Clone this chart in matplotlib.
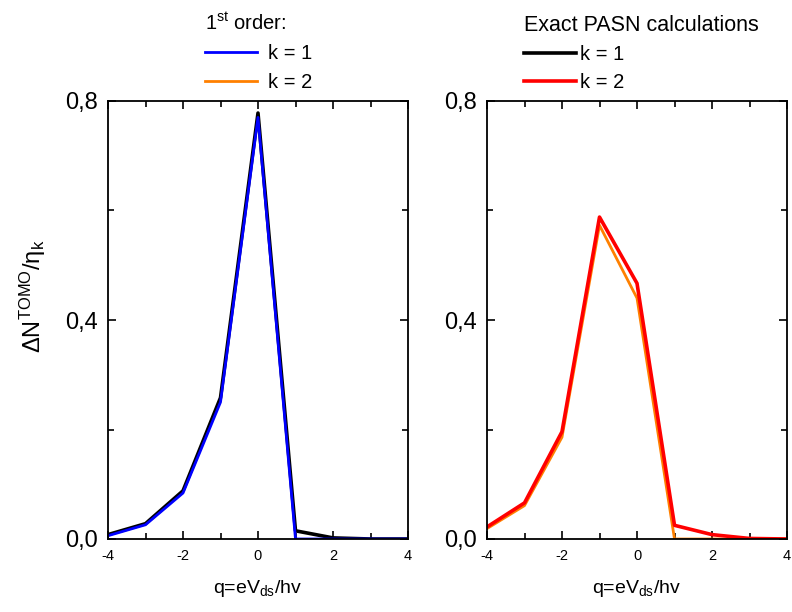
import matplotlib
matplotlib.use("Agg")
import matplotlib.pyplot as plt
from matplotlib.lines import Line2D
from matplotlib.ticker import MultipleLocator, FuncFormatter

plt.rcParams['font.family'] = ['Liberation Sans', 'DejaVu Sans']
plt.rcParams['mathtext.fontset'] = 'custom'
plt.rcParams['mathtext.rm'] = 'Liberation Sans'
plt.rcParams['mathtext.it'] = 'Liberation Sans:italic'
plt.rcParams['axes.unicode_minus'] = False

# dados
q = [-4, -3, -2, -1, 0, 1, 2, 3, 4]
exact_k1 = [0.008, 0.028, 0.088, 0.258, 0.778, 0.015, 0.002, 0.0, 0.0]
first_k1 = [0.006, 0.026, 0.084, 0.250, 0.770, 0.0, 0.0, 0.0, 0.0]
exact_k2 = [0.022, 0.066, 0.196, 0.588, 0.467, 0.025, 0.008, 0.001, 0.0]
first_k2 = [0.019, 0.061, 0.186, 0.573, 0.440, 0.0, 0.0, 0.0, 0.0]

xticks = [-4, -2, 0, 2, 4]
yticks = [0.0, 0.4, 0.8]

fig = plt.figure(figsize=(7.92, 6.12), dpi=100)
ax1 = fig.add_axes([108 / 792, 1 - 539 / 612, 300 / 792, 438 / 612])
ax2 = fig.add_axes([487 / 792, 1 - 539 / 612, 300 / 792, 438 / 612])

ax1.plot(q, exact_k1, color='black', lw=2.6)
ax1.plot(q, first_k1, color='#0000ff', lw=2.0)
ax2.plot(q, first_k2, color='#ff8000', lw=2.0)
ax2.plot(q, exact_k2, color='#ff0000', lw=2.6)

virgula = FuncFormatter(lambda v, p: f"{v:.1f}".replace('.', ','))

for ax in (ax1, ax2):
    ax.set_xlim(-4, 4)
    ax.set_ylim(0, 0.8)
    ax.set_xticks(xticks)
    ax.set_yticks(yticks)
    ax.xaxis.set_minor_locator(MultipleLocator(1))
    ax.yaxis.set_minor_locator(MultipleLocator(0.2))
    ax.yaxis.set_major_formatter(virgula)
    ax.tick_params(which='both', direction='in', top=True, right=True, width=1.2)
    ax.tick_params(which='major', length=6)
    ax.tick_params(which='minor', length=4)
    ax.tick_params(axis='x', labelsize=10.5, pad=7)
    ax.tick_params(axis='y', labelsize=17, pad=7)
    for s in ax.spines.values():
        s.set_linewidth(1.3)
    ax.set_xlabel("q=eV$_{\\rm ds}$/hv", fontsize=14, labelpad=11)

ax1.set_ylabel("ΔN$^{\\rm TOMO}$/η$_{\\rm k}$", fontsize=17)
ax1.yaxis.set_label_coords(-0.2, 0.555)

h1 = [Line2D([], [], color='#0000ff', lw=2), Line2D([], [], color='#ff8000', lw=2)]
leg1 = fig.legend(h1, ["k = 1", "k = 2"], title="1$^{\\rm st}$ order:", loc='upper left',
                  bbox_to_anchor=(205 / 792, 1 - 12 / 612), frameon=False, fontsize=14.5,
                  title_fontsize=14.5, handlelength=2.6, handletextpad=0.55,
                  borderpad=0, borderaxespad=0, labelspacing=0.5)
leg1._legend_box.align = 'left'

h2 = [Line2D([], [], color='black', lw=2.6), Line2D([], [], color='#ff0000', lw=2.6)]
leg2 = fig.legend(h2, ["k = 1", "k = 2"], title="Exact PASN calculations", loc='upper left',
                  bbox_to_anchor=(524 / 792, 1 - 15 / 612), frameon=False, fontsize=14.5,
                  title_fontsize=15.5, handlelength=2.6, handletextpad=0.2,
                  borderpad=0, borderaxespad=0, labelspacing=0.45)
leg2._legend_box.align = 'left'

fig.savefig("out.png", dpi=100)
